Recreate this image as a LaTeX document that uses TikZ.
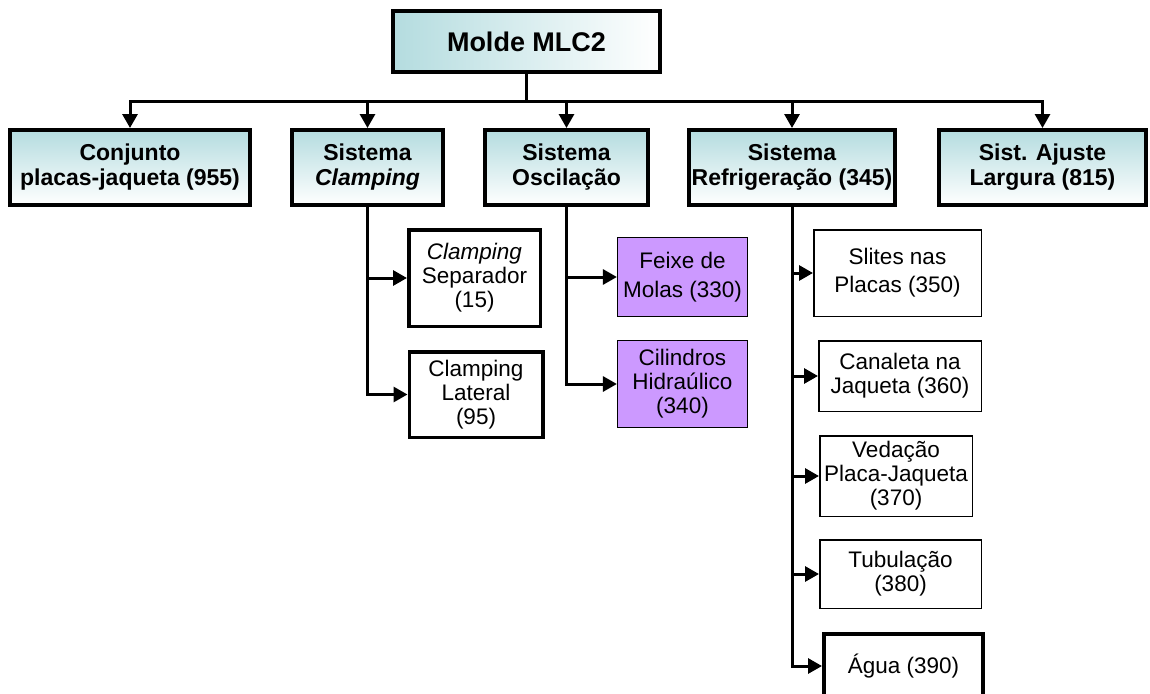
\documentclass[tikz,border=0pt]{standalone}
\usepackage{fontspec}
\setmainfont{Liberation Sans}
\usetikzlibrary{arrows.meta,positioning}

\begin{document}
\begin{tikzpicture}[x=1pt,y=-1pt,
    topbox/.style={draw,line width=4pt,left color=boxteal,right color=white,
        minimum width=267pt,minimum height=61pt,inner sep=0pt,
        font=\fontsize{27}{31}\selectfont\bfseries},
    sysbox/.style={draw,line width=4pt,top color=boxteal,bottom color=white,
        minimum height=75pt,inner sep=0pt,align=center,
        font=\fontsize{23}{25}\selectfont\bfseries},
    partbox/.style={draw,line width=1.5pt,fill=white,inner sep=0pt,align=center,
        font=\fontsize{22.5}{24}\selectfont},
    heavybox/.style={partbox,line width=3.5pt},
    lilacbox/.style={partbox,line width=1.2pt,fill=lilac},
    conn/.style={line width=3pt,-{Triangle[length=14pt,width=15pt]}}]
    \definecolor{boxteal}{RGB}{180,220,223}
    \definecolor{lilac}{RGB}{204,153,255}

    \useasboundingbox (0,0) rectangle (1150,693);

    % Top of the tree
    \node[topbox] (root) at (526.5,41.5) {Molde MLC2};

    % Systems
    \node[sysbox,minimum width=240pt] (conj)   at (130,167.5)    {Conjunto\\placas-jaqueta (955)};
    \node[sysbox,minimum width=151pt] (clamp)  at (367.5,167.5)  {Sistema\\\textit{Clamping}};
    \node[sysbox,minimum width=163pt] (osc)    at (566.5,167.5)  {Sistema\\Oscilação};
    \node[sysbox,minimum width=206pt] (refr)   at (792,167.5)    {Sistema\\Refrigeração (345)};
    \node[sysbox,minimum width=207pt] (ajuste) at (1042.5,167.5) {Sist. Ajuste\\Largura (815)};

    \foreach \n in {conj,clamp,osc,refr,ajuste}
        \draw[conn] (root.south) -- ++(0,27) -| (\n.north);

    % Clamping parts
    \node[heavybox,minimum width=131.5pt,minimum height=96.5pt] (sep) at (474.5,278)
        {\textit{Clamping}\\Separador\\(15)};
    \node[heavybox,minimum width=133.5pt,minimum height=85.5pt] (lat) at (476,394.5)
        {Clamping\\Lateral\\(95)};

    % Oscillation parts
    \node[lilacbox,minimum width=130pt,minimum height=79pt] (feixe) at (682.5,277)
        {Feixe de\\[5pt]Molas (330)};
    \node[lilacbox,minimum width=130pt,minimum height=87pt] (cil) at (682.5,384)
        {Cilindros\\Hidraúlico\\(340)};

    % Cooling parts
    \node[partbox,minimum width=167.5pt,minimum height=86.5pt] (slites) at (897.5,273)
        {Slites nas\\[4pt]Placas (350)};
    \node[partbox,minimum width=162.5pt,minimum height=70.5pt] (canal) at (900,376)
        {Canaleta na\\Jaqueta (360)};
    \node[partbox,minimum width=152.5pt,minimum height=80.5pt] (ved) at (896,476)
        {Vedação\\Placa-Jaqueta\\(370)};
    \node[partbox,minimum width=161.5pt,minimum height=68.5pt] (tub) at (900.5,574)
        {Tubulação\\(380)};
    \node[partbox,line width=4pt,minimum width=159pt,minimum height=64pt] (agua) at (903.5,666)
        {Água (390)};

    \foreach \n in {sep,lat}
        \draw[conn] (clamp.south) |- (\n.west);
    \foreach \n in {feixe,cil}
        \draw[conn] (osc.south) |- (\n.west);
    \foreach \n in {slites,canal,ved,tub,agua}
        \draw[conn] (refr.south) |- (\n.west);
\end{tikzpicture}
\end{document}
